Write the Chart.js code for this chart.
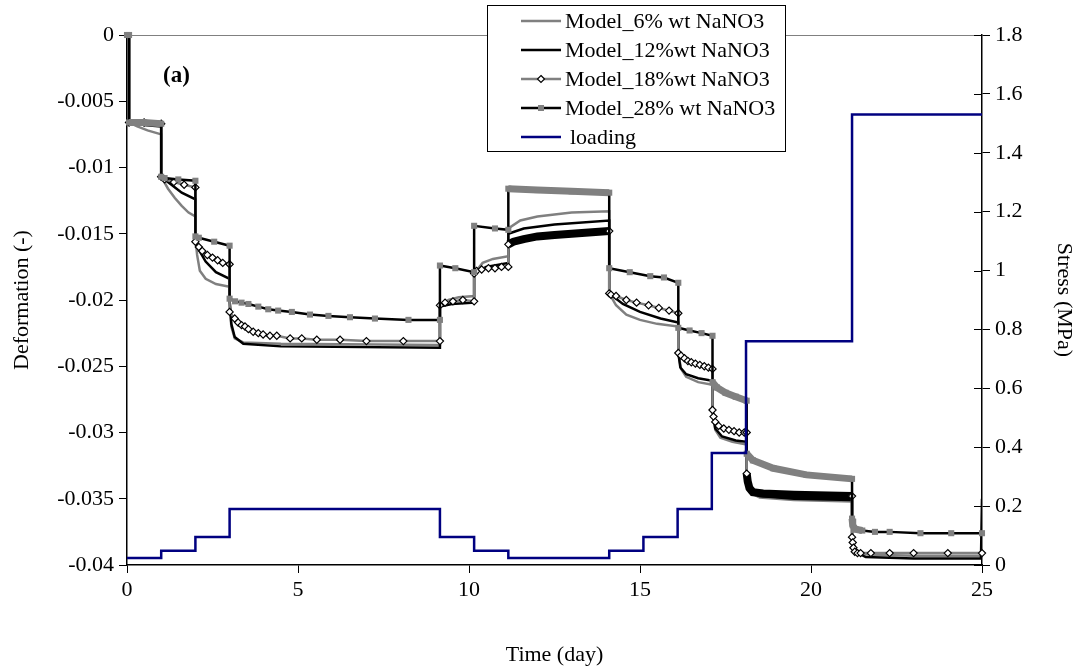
<!DOCTYPE html>
<html>
<head>
<meta charset="utf-8">
<script src="https://cdn.jsdelivr.net/npm/chart.js@4.4.0/dist/chart.umd.min.js"></script>
<style>
  html, body { margin: 0; padding: 0; background: #fff; }
  #wrap { width: 1081px; height: 670px; position: relative; }
</style>
</head>
<body>
<div id="wrap"><canvas id="chart"></canvas></div>
<script>
// Series: [time (day), deformation (-)]
const model6 = [
  [0, 0], [0.06, 0], [0.06, -0.0066], [0.3, -0.0069], [0.6, -0.0072], [1.0, -0.0075],
  [1.0, -0.0107], [1.2, -0.0116], [1.4, -0.0123], [1.6, -0.0129], [1.8, -0.0134], [2.0, -0.0137],
  [2.0, -0.0153], [2.05, -0.0166], [2.13, -0.0178], [2.3, -0.0184], [2.6, -0.0188], [3.0, -0.0190],
  [3.0, -0.0200], [3.05, -0.0220], [3.15, -0.0229], [3.4, -0.0232], [4.5, -0.0233], [9.15, -0.0234],
  [9.15, -0.0204], [9.4, -0.0200], [9.7, -0.0198], [10.15, -0.0197],
  [10.15, -0.0180], [10.4, -0.0172], [10.7, -0.0169], [11.15, -0.0167],
  [11.15, -0.0146], [11.5, -0.0140], [12.0, -0.0137], [13.0, -0.0134], [14.1, -0.0133],
  [14.1, -0.0195], [14.3, -0.0204], [14.6, -0.0211], [15.0, -0.0215], [15.5, -0.0218], [16.12, -0.0220],
  [16.12, -0.0240], [16.2, -0.0252], [16.35, -0.0258], [16.7, -0.0262], [17.12, -0.0264],
  [17.12, -0.0283], [17.2, -0.0298], [17.35, -0.0304], [17.7, -0.0307], [18.12, -0.0309],
  [18.12, -0.0331], [18.2, -0.0345], [18.5, -0.0349], [19.5, -0.0351], [21.2, -0.0352],
  [21.2, -0.0379], [21.3, -0.0389], [21.6, -0.0392], [23, -0.0393], [25, -0.0393]
];
const model12 = [
  [0, 0], [0.06, 0], [0.06, -0.0066], [0.5, -0.0068], [1.0, -0.0069],
  [1.0, -0.0107], [1.3, -0.0113], [1.6, -0.0119], [2.0, -0.0124],
  [2.0, -0.0153], [2.1, -0.0162], [2.3, -0.0171], [2.6, -0.0179], [3.0, -0.0184],
  [3.0, -0.0200], [3.05, -0.0218], [3.15, -0.0228], [3.4, -0.0233], [4.5, -0.0235], [9.15, -0.0236],
  [9.15, -0.0205], [9.5, -0.0203], [10.15, -0.0202],
  [10.15, -0.0180], [10.5, -0.0175], [11.15, -0.0172],
  [11.15, -0.0150], [11.6, -0.0146], [12.5, -0.0143], [14.1, -0.0140],
  [14.1, -0.0195], [14.5, -0.0203], [15.0, -0.0209], [15.6, -0.0214], [16.12, -0.0217],
  [16.12, -0.0240], [16.18, -0.0251], [16.35, -0.0256], [16.7, -0.0259], [17.12, -0.0261],
  [17.12, -0.0283], [17.2, -0.0297], [17.4, -0.0303], [17.8, -0.0306], [18.12, -0.0307],
  [18.12, -0.0331], [18.2, -0.0344], [18.5, -0.0348], [19.5, -0.0350], [21.2, -0.0351],
  [21.2, -0.0379], [21.3, -0.0390], [21.6, -0.0394], [23, -0.0395], [24.97, -0.0395], [25, -0.0350]
];
const model18 = [
  [0, 0], [0.06, 0], [0.06, -0.0066], [0.5, -0.0066], [1.0, -0.0067],
  [1.0, -0.0107], [1.1, -0.0109], [1.37, -0.0111], [1.67, -0.0113], [2.0, -0.0115],
  [2.0, -0.0156], [2.1, -0.0160], [2.2, -0.0163], [2.35, -0.0166], [2.5, -0.0168], [2.65, -0.0170], [2.8, -0.0172], [3.0, -0.0173],
  [3.0, -0.0209], [3.15, -0.0214], [3.25, -0.0217], [3.35, -0.0219], [3.45, -0.0220], [3.55, -0.0222],
  [3.69, -0.0224], [3.84, -0.0225], [3.98, -0.0226], [4.18, -0.0227], [4.38, -0.0227], [4.77, -0.0229],
  [5.11, -0.0229], [5.55, -0.0230], [6.23, -0.0230], [7.0, -0.0231], [8.08, -0.0231], [9.15, -0.0231],
  [9.15, -0.0204], [9.3, -0.0202], [9.53, -0.0201], [9.82, -0.0200], [10.15, -0.0201],
  [10.15, -0.0180], [10.22, -0.0178], [10.37, -0.0177], [10.57, -0.0176], [10.76, -0.0176], [10.95, -0.0175], [11.15, -0.0175],
  [11.15, -0.0158], [11.3, -0.0156], [11.6, -0.0154], [12.0, -0.0152], [12.5, -0.0151], [13.0, -0.0150], [13.5, -0.0149], [14.1, -0.0148],
  [14.1, -0.0195], [14.15, -0.0196], [14.3, -0.0197], [14.6, -0.0200], [14.9, -0.0202], [15.25, -0.0204], [15.55, -0.0206], [15.85, -0.0208], [16.12, -0.0210],
  [16.12, -0.0240], [16.2, -0.0242], [16.3, -0.0244], [16.4, -0.0246], [16.5, -0.0247], [16.62, -0.0248], [16.75, -0.0249], [16.88, -0.0250], [17.0, -0.0251], [17.12, -0.0252],
  [17.12, -0.0283], [17.15, -0.0288], [17.2, -0.0292], [17.3, -0.0295], [17.45, -0.0297], [17.6, -0.0298], [17.75, -0.0299], [17.9, -0.0300], [18.05, -0.0300], [18.12, -0.0300],
  [18.12, -0.0331], [18.15, -0.0337], [18.2, -0.0342], [18.3, -0.0345], [18.6, -0.0346], [19.5, -0.0347], [21.2, -0.0348],
  [21.2, -0.0379], [21.22, -0.0383], [21.24, -0.0387], [21.28, -0.0390], [21.36, -0.0391], [21.45, -0.0391], [21.75, -0.0391], [22.3, -0.0391], [23.0, -0.0391], [24.0, -0.0391], [25, -0.0391]
];
const model28 = [
  [0, 0], [0.06, 0], [0.06, -0.0066], [0.5, -0.0066], [1.0, -0.0067],
  [1.0, -0.0107], [1.1, -0.0108], [1.5, -0.0109], [2.0, -0.0110],
  [2.0, -0.0152], [2.1, -0.0153], [2.55, -0.0156], [3.0, -0.0159],
  [3.0, -0.0199], [3.16, -0.0201], [3.35, -0.0202], [3.55, -0.0203], [3.84, -0.0205], [4.13, -0.0207], [4.42, -0.0208],
  [4.82, -0.0209], [5.35, -0.0211], [5.89, -0.0212], [6.52, -0.0213], [7.25, -0.0214], [8.23, -0.0215], [9.15, -0.0215],
  [9.15, -0.0174], [9.6, -0.0176], [10.15, -0.0179],
  [10.15, -0.0144], [10.76, -0.0146], [11.15, -0.0147],
  [11.15, -0.0116], [12.0, -0.0117], [13.0, -0.0118], [14.1, -0.0119],
  [14.1, -0.0176], [14.7, -0.0179], [15.3, -0.0182], [15.7, -0.0183], [16.12, -0.0187],
  [16.12, -0.0221], [16.45, -0.0223], [16.8, -0.0225], [17.12, -0.0227],
  [17.12, -0.0262], [17.25, -0.0266], [17.5, -0.0270], [17.8, -0.0273], [18.12, -0.0276],
  [18.12, -0.0316], [18.3, -0.0321], [18.9, -0.0327], [19.87, -0.0332], [21.2, -0.0335],
  [21.2, -0.0365], [21.22, -0.0370], [21.3, -0.0373], [21.5, -0.0374], [21.87, -0.0375], [22.3, -0.0375], [23.2, -0.0376], [24.1, -0.0376], [25, -0.0376]
];
// loading (MPa), step changes at these days
const loadTimes = [0, 1, 2, 3, 9.15, 10.15, 11.15, 14.1, 15.1, 16.1, 17.1, 18.1, 21.2, 25];
const loadStress = [0.024, 0.048, 0.095, 0.19, 0.095, 0.048, 0.024, 0.048, 0.095, 0.19, 0.38, 0.76, 1.53, 1.53];

const seriesNames = ['Model_6% wt NaNO3', 'Model_12%wt NaNO3', 'Model_18%wt NaNO3', 'Model_28% wt NaNO3', 'loading'];

// time spans where the markers sit so close they merge into a band
const dense18 = [[11.15, 14.1], [18.12, 21.2]];
const dense28 = [[0.06, 1.0], [11.15, 14.1], [17.12, 21.2], [21.2, 21.5]];

const GRAY = '#808080';
const FONT = 'Liberation Serif';

const toXY = arr => arr.map(p => ({ x: p[0], y: p[1] }));
function inDense(ranges, a, b) {
  return b > a && ranges.some(r => a >= r[0] - 1e-9 && b <= r[1] + 1e-9);
}
function insideDense(ranges, x) {
  return ranges.some(r => x > r[0] + 1e-9 && x < r[1] - 1e-9);
}

const legendPlugin = {
  id: 'boxLegend',
  afterDraw(chart) {
    const ctx = chart.ctx;
    const area = chart.chartArea;
    ctx.save();
    // top border of plot area
    ctx.strokeStyle = GRAY;
    ctx.lineWidth = 1;
    ctx.beginPath();
    ctx.moveTo(area.left, area.top + 0.5);
    ctx.lineTo(area.right, area.top + 0.5);
    ctx.stroke();
    // right axis ticks crossing inside
    const y1 = chart.scales.y1;
    ctx.strokeStyle = '#000';
    ctx.lineWidth = 1;
    y1.ticks.forEach(t => {
      const py = Math.round(y1.getPixelForValue(t.value)) + 0.5;
      ctx.beginPath();
      ctx.moveTo(area.right - 8, py);
      ctx.lineTo(area.right, py);
      ctx.stroke();
    });
    // label (a)
    ctx.fillStyle = '#000';
    ctx.font = 'bold 23px "' + FONT + '"';
    ctx.textBaseline = 'middle';
    ctx.fillText('(a)', 163, 76);

    // legend box
    const bx = 487.5, by = 5.5, bw = 298, bh = 146;
    ctx.fillStyle = '#fff';
    ctx.fillRect(bx, by, bw, bh);
    ctx.strokeStyle = '#000';
    ctx.lineWidth = 1;
    ctx.strokeRect(bx, by, bw, bh);
    ctx.font = '22px "' + FONT + '"';
    chart.data.datasets.forEach((ds, i) => {
      const yy = 21 + i * 29;
      ctx.strokeStyle = ds.borderColor;
      ctx.lineWidth = 2.5;
      ctx.beginPath();
      ctx.moveTo(521, yy);
      ctx.lineTo(561, yy);
      ctx.stroke();
      if (ds.legendMarker === 'diamond') {
        ctx.fillStyle = '#fff';
        ctx.strokeStyle = '#000';
        ctx.lineWidth = 1.2;
        ctx.beginPath();
        ctx.moveTo(541, yy - 3.5); ctx.lineTo(544.5, yy); ctx.lineTo(541, yy + 3.5); ctx.lineTo(537.5, yy);
        ctx.closePath();
        ctx.fill(); ctx.stroke();
      } else if (ds.legendMarker === 'square') {
        ctx.fillStyle = GRAY;
        ctx.fillRect(538, yy - 3, 6, 6);
      }
      ctx.fillStyle = '#000';
      ctx.fillText(ds.label, i === 4 ? 570 : 565, yy + 1);
    });
    ctx.restore();
  }
};

const tickFont = { family: FONT, size: 22 };

new Chart(document.getElementById('chart'), {
  type: 'line',
  data: {
    datasets: [
      { label: seriesNames[0], data: toXY(model6), borderColor: GRAY, borderWidth: 2.5, pointRadius: 0, order: 4 },
      { label: seriesNames[1], data: toXY(model12), borderColor: '#000', borderWidth: 2.5, pointRadius: 0, order: 3 },
      {
        label: seriesNames[2], data: toXY(model18), borderColor: GRAY, borderWidth: 2.5, order: 2,
        legendMarker: 'diamond',
        pointStyle: 'rectRot',
        pointRadius: c => (c.raw && (c.raw.y === 0 || insideDense(dense18, c.raw.x))) ? 0 : 3.6,
        pointBackgroundColor: '#fff', pointBorderColor: '#000', pointBorderWidth: 1.2,
        segment: {
          borderColor: c => inDense(dense18, c.p0.parsed.x, c.p1.parsed.x) ? '#000' : GRAY,
          borderWidth: c => inDense(dense18, c.p0.parsed.x, c.p1.parsed.x) ? 8 : 2.5
        },
        clip: false
      },
      {
        label: seriesNames[3], data: toXY(model28), borderColor: '#000', borderWidth: 2.5, order: 1,
        legendMarker: 'square',
        pointStyle: 'rect', pointRadius: 4.3,
        pointBackgroundColor: GRAY, pointBorderColor: GRAY, pointBorderWidth: 0,
        segment: {
          borderColor: c => inDense(dense28, c.p0.parsed.x, c.p1.parsed.x) ? GRAY : '#000',
          borderWidth: c => inDense(dense28, c.p0.parsed.x, c.p1.parsed.x) ? 7 : 2.5
        },
        clip: false
      },
      {
        label: seriesNames[4], data: loadTimes.map((t, i) => ({ x: t, y: loadStress[i] })),
        yAxisID: 'y1', borderColor: '#000080', borderWidth: 2.5, pointRadius: 0, stepped: true, order: 0
      }
    ]
  },
  options: {
    responsive: true,
    maintainAspectRatio: false,
    animation: false,
    layout: { padding: { top: 35, left: 0, right: 0, bottom: 0 } },
    plugins: { legend: { display: false }, tooltip: { enabled: false } },
    scales: {
      x: {
        type: 'linear', min: 0, max: 25,
        ticks: { stepSize: 5, color: '#000', font: tickFont, padding: 4, maxRotation: 0 },
        grid: { drawOnChartArea: false, drawTicks: true, tickLength: 8, color: '#000' },
        border: { color: '#000', width: 1.5 },
        title: { display: true, text: 'Time (day)', color: '#000', font: tickFont, padding: { top: 4, bottom: 2 } },
        afterFit: s => { s.height = 105; }
      },
      y: {
        type: 'linear', position: 'left', min: -0.04, max: 0,
        ticks: {
          stepSize: 0.005, color: '#000', font: tickFont, padding: 5,
          callback: v => Math.abs(v) < 1e-9 ? '0' : String(+v.toFixed(3))
        },
        grid: { drawOnChartArea: false, drawTicks: true, tickLength: 8, color: '#000' },
        border: { color: '#000', width: 1.5 },
        title: { display: true, text: 'Deformation (-)', color: '#000', font: tickFont, padding: { top: 9, bottom: 4 } },
        afterFit: s => { s.width = 127; }
      },
      y1: {
        type: 'linear', position: 'right', min: 0, max: 1.8,
        ticks: {
          stepSize: 0.2, color: '#000', font: tickFont, padding: 5,
          callback: v => String(+v.toFixed(1))
        },
        grid: { drawOnChartArea: false, drawTicks: true, tickLength: 8, color: '#000' },
        border: { color: '#000', width: 1.5 },
        title: { display: true, text: 'Stress (MPa)', color: '#000', font: tickFont, padding: { top: 4, bottom: 2 } },
        afterFit: s => { s.width = 99; }
      }
    }
  },
  plugins: [legendPlugin]
});
</script>
</body>
</html>
